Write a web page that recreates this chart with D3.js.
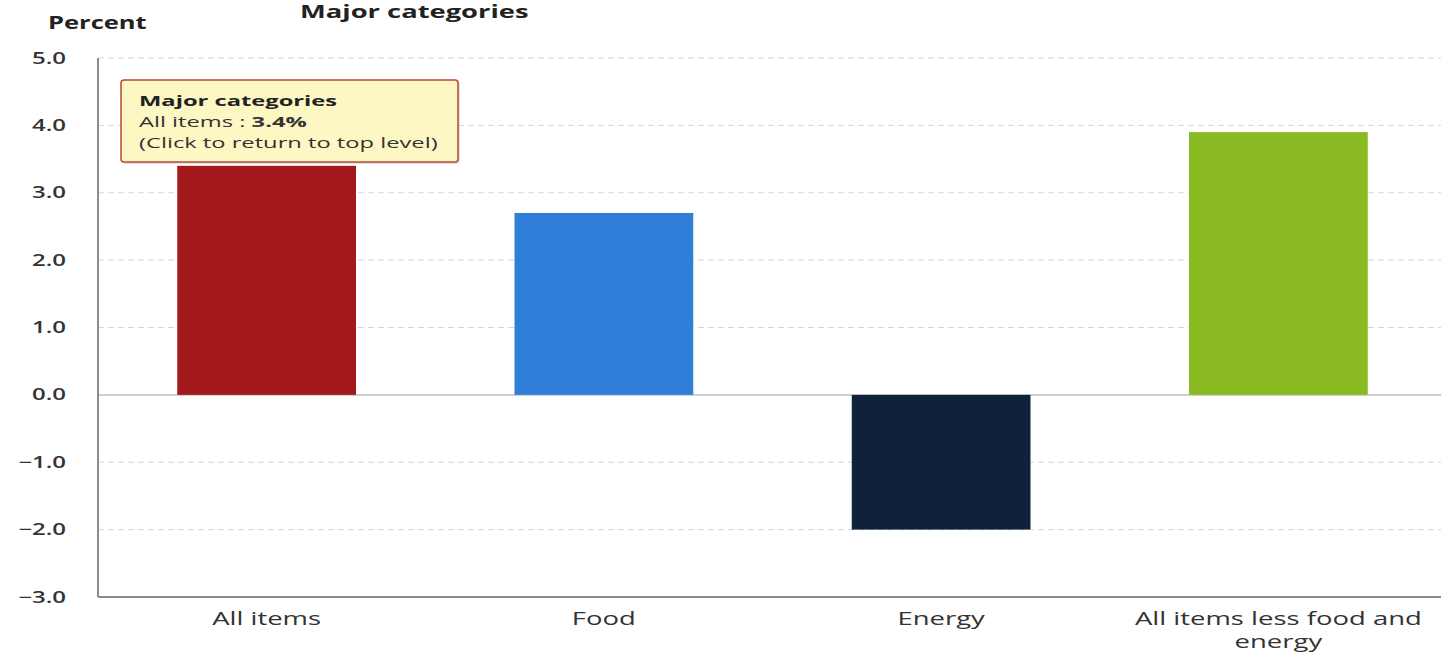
<!DOCTYPE html>
<html><head><meta charset="utf-8">
<script src="https://cdn.jsdelivr.net/npm/d3@7"></script>
<style>body{margin:0;background:#fff;}svg{display:block;font-family:"Open Sans",sans-serif;}</style>
</head><body>
<svg id="chart" width="1441" height="655"></svg>
<script>
const categories = ["All items", "Food", "Energy", "All items less food and energy"];
const values = [3.4, 2.7, -2.0, 3.9];
const colors = ["#a3181b", "#2f7fd8", "#102239", "#8aba22"];
const yTicks = [5, 4, 3, 2, 1, 0, -1, -2, -3];
const tooltipLines = ["Major categories", "All items : ", "3.4%", "(Click to return to top level)"];

const svg = d3.select("#chart");
const m = {left: 98, top: 58};
const W = 1441;
const SX = 1.55; // horizontal stretch of the reference's text
const x = d3.scaleBand().domain(categories).range([m.left, 1447]).paddingInner(0.47).paddingOuter(0.235);
const y = d3.scaleLinear().domain([-3, 5]).range([597, 58]);

// gridlines
svg.append("g").selectAll("line").data(yTicks.filter(t => t !== 0 && t !== -3)).join("line")
  .attr("x1", m.left).attr("x2", W).attr("y1", d => y(d)).attr("y2", d => y(d))
  .attr("stroke", "#d6d6d6").attr("stroke-width", 1).attr("stroke-dasharray", "6,4");

// zero line
svg.append("line").attr("x1", m.left).attr("x2", W).attr("y1", y(0)).attr("y2", y(0))
  .attr("stroke", "#cfcfcf").attr("stroke-width", 2);

// bars
svg.append("g").selectAll("rect").data(values).join("rect")
  .attr("x", (d, i) => x(categories[i]))
  .attr("width", x.bandwidth())
  .attr("y", d => y(Math.max(0, d)))
  .attr("height", d => Math.abs(y(d) - y(0)))
  .attr("fill", (d, i) => colors[i]);

// axes lines
svg.append("line").attr("x1", m.left).attr("x2", m.left).attr("y1", y(5)).attr("y2", y(-3))
  .attr("stroke", "#8c8c8c").attr("stroke-width", 2);
svg.append("line").attr("x1", m.left).attr("x2", W).attr("y1", y(-3)).attr("y2", y(-3))
  .attr("stroke", "#8c8c8c").attr("stroke-width", 2);

// y axis labels
const yAxis = d3.axisLeft(y).tickValues(yTicks).tickSize(0)
  .tickFormat(d => (d < 0 ? "\u2212" : "") + Math.abs(d).toFixed(1));
const ya = svg.append("g").attr("transform", `translate(${m.left},0)`).call(yAxis);
ya.select(".domain").remove();
ya.selectAll("text").attr("font-size", 16).attr("font-weight", 600).attr("fill", "#333")
  .attr("font-family", "Open Sans").attr("x", -32 / 1.5).attr("transform", "scale(1.5,1)");

// x axis labels
const xAxis = d3.axisBottom(x).tickSize(0).tickPadding(16);
const xa = svg.append("g").attr("transform", `translate(0,${y(-3)})`).call(xAxis);
xa.select(".domain").remove();
xa.selectAll("text").attr("font-size", 17.5).attr("fill", "#333").attr("font-family", "Open Sans")
  .attr("transform", "scale(1.57,1)")
  .each(function(d) {
    const t = d3.select(this);
    if (d === "All items less food and energy") {
      t.text(null);
      t.append("tspan").attr("x", 0).attr("dy", "0.71em").text("All items less food and");
      t.append("tspan").attr("x", 0).attr("dy", "1.3em").text("energy");
      t.attr("dy", null);
    }
  });

// titles
svg.append("text").attr("transform", "translate(48,29) scale(1.5,1)").text("Percent")
  .attr("font-size", 17).attr("font-weight", 700).attr("fill", "#222");
svg.append("text").attr("transform", "translate(300,18) scale(1.52,1)").text("Major categories")
  .attr("font-size", 18).attr("font-weight", 700).attr("fill", "#222");

// tooltip
const tt = svg.append("g").attr("transform", "translate(121,80)");
tt.append("rect").attr("x", 2).attr("y", 2).attr("width", 337).attr("height", 82).attr("rx", 3)
  .attr("fill", "rgba(0,0,0,0.12)");
tt.append("rect").attr("width", 337).attr("height", 82).attr("rx", 3)
  .attr("fill", "#fdf8c3").attr("stroke", "#b5473c").attr("stroke-width", 1.5);
const tg = tt.append("g").attr("transform", "translate(18,0) scale(1.58,1)");
tg.append("text").attr("y", 26).attr("font-size", 15).attr("font-weight", 700)
  .attr("fill", "#222").text(tooltipLines[0]);
const l2 = tg.append("text").attr("y", 47).attr("font-size", 15).attr("fill", "#333");
l2.append("tspan").text(tooltipLines[1]);
l2.append("tspan").attr("font-weight", 700).text(tooltipLines[2]);
tg.append("text").attr("y", 68).attr("font-size", 15).attr("fill", "#333").text(tooltipLines[3]);
</script>
</body></html>
